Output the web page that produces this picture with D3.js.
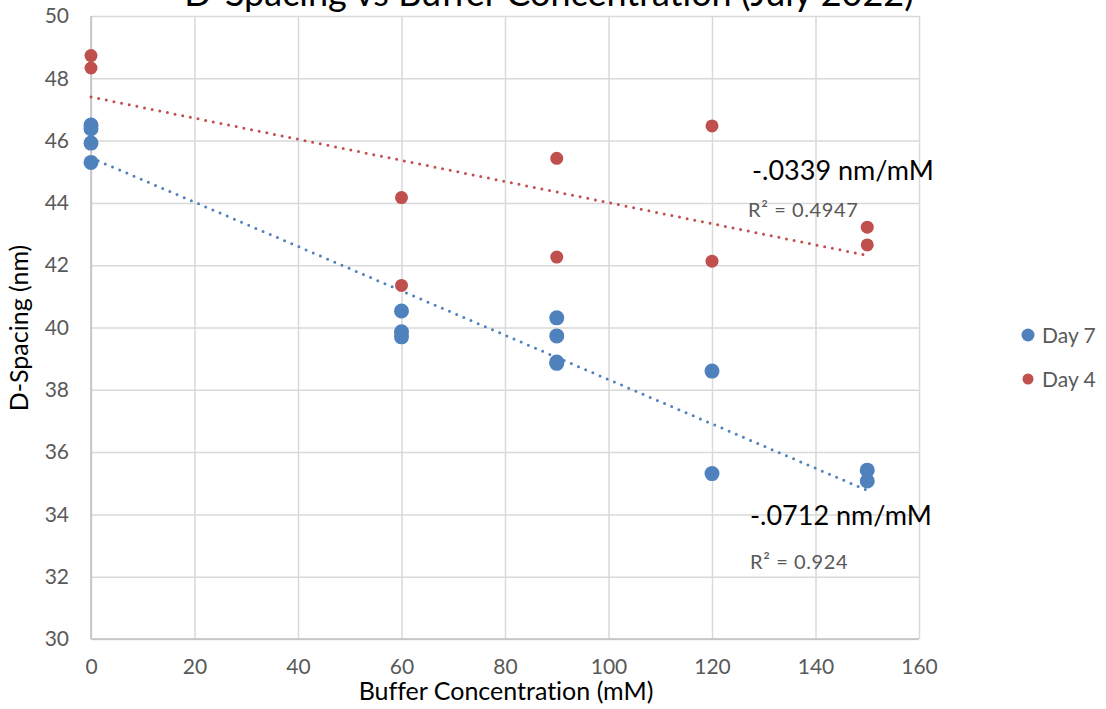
<!DOCTYPE html>
<html>
<head>
<meta charset="utf-8">
<script src="https://cdn.jsdelivr.net/npm/d3@7"></script>
<style>
  body { margin: 0; background: #fff; }
  svg { display: block; font-family: Lato, "Liberation Sans", sans-serif; font-variant-ligatures: none; }
</style>
</head>
<body>
<svg width="1106" height="709"></svg>
<script>
// Day 7 measurements (buffer mM, d-spacing nm)
const day7X = [0, 0, 0, 0, 60, 60, 60, 90, 90, 90, 90, 120, 120, 150, 150];
const day7Y = [46.50, 46.38, 45.92, 45.30, 40.53, 39.86, 39.70, 40.31, 39.73, 38.89, 38.85, 38.60, 35.31, 35.42, 35.07];
// Day 4 measurements
const day4X = [0, 0, 60, 60, 90, 90, 120, 120, 150, 150];
const day4Y = [48.73, 48.33, 44.17, 41.35, 45.43, 42.26, 46.47, 42.13, 43.22, 42.65];
// linear trendlines: intercept, slope
const trendDay7 = [45.45, -0.0712];
const trendDay4 = [47.40, -0.0339];
const xTicks = [0, 20, 40, 60, 80, 100, 120, 140, 160];
const yTicks = [30, 32, 34, 36, 38, 40, 42, 44, 46, 48, 50];

const svg = d3.select('svg');
const margin = {top: 16, left: 91, right: 187, bottom: 70};
const width = +svg.attr('width');
const height = +svg.attr('height');
const innerWidth = width - margin.left - margin.right;
const innerHeight = height - margin.top - margin.bottom;

const blue = '#4f81bd';
const red = '#c0504d';

const xScale = d3.scaleLinear().domain([0, 160]).range([0, innerWidth]);
const yScale = d3.scaleLinear().domain([30, 50]).range([innerHeight, 0]);

const g = svg.append('g')
    .attr('transform', `translate(${margin.left},${margin.top})`);

// gridlines
const gy = g.append('g')
    .call(d3.axisLeft(yScale).tickValues(yTicks).tickSize(-innerWidth).tickFormat(''));
gy.select('.domain').remove();
gy.selectAll('.tick text').remove();
gy.selectAll('.tick line').attr('stroke', '#d9d9d9').attr('stroke-width', 1.5);

const gx = g.append('g')
    .call(d3.axisBottom(xScale).tickValues(xTicks).tickSize(innerHeight).tickFormat(''));
gx.select('.domain').remove();
gx.selectAll('.tick text').remove();
gx.selectAll('.tick line').attr('stroke', '#d9d9d9').attr('stroke-width', 1.5);

// axis lines
g.append('line').attr('x1', 0).attr('x2', 0).attr('y1', 0).attr('y2', innerHeight)
    .attr('stroke', '#bfbfbf').attr('stroke-width', 1.5);
g.append('line').attr('x1', 0).attr('x2', innerWidth).attr('y1', innerHeight).attr('y2', innerHeight)
    .attr('stroke', '#bfbfbf').attr('stroke-width', 1.5);

// tick labels
const yAx = g.append('g')
    .call(d3.axisLeft(yScale).tickValues(yTicks).tickSize(0).tickPadding(22));
yAx.select('.domain').remove();
yAx.selectAll('text').attr('font-size', 21).attr('fill', '#595959').attr('font-family', 'Lato');

const xAx = g.append('g')
    .attr('transform', `translate(0,${innerHeight})`)
    .call(d3.axisBottom(xScale).tickValues(xTicks).tickSize(0).tickPadding(20));
xAx.select('.domain').remove();
xAx.selectAll('text').attr('font-size', 21).attr('fill', '#595959').attr('font-family', 'Lato');

// trendlines
const drawTrend = (t, color) => {
    g.append('line')
        .attr('x1', xScale(0)).attr('y1', yScale(t[0]))
        .attr('x2', xScale(150)).attr('y2', yScale(t[0] + t[1] * 150))
        .attr('stroke', color).attr('stroke-width', 3)
        .attr('stroke-dasharray', '0 7.8').attr('stroke-linecap', 'round');
};
drawTrend(trendDay4, red);
drawTrend(trendDay7, blue);

// points
g.selectAll('circle.d7').data(day7X.map((x, i) => [x, day7Y[i]]))
    .enter().append('circle').attr('class', 'd7')
    .attr('cx', d => xScale(d[0])).attr('cy', d => yScale(d[1]))
    .attr('r', 7.5).attr('fill', blue);
g.selectAll('circle.d4').data(day4X.map((x, i) => [x, day4Y[i]]))
    .enter().append('circle').attr('class', 'd4')
    .attr('cx', d => xScale(d[0])).attr('cy', d => yScale(d[1]))
    .attr('r', 6.5).attr('fill', red);

// annotations
svg.append('text').attr('x', 752).attr('y', 180).attr('font-size', 27).attr('fill', '#000').text('-.0339 nm/mM');
svg.append('text').attr('x', 748).attr('y', 217).attr('font-size', 20).attr('letter-spacing', 0.6)
    .attr('fill', '#595959').text('R² = 0.4947');
svg.append('text').attr('x', 750).attr('y', 525).attr('font-size', 27).attr('fill', '#000').text('-.0712 nm/mM');
svg.append('text').attr('x', 750).attr('y', 569).attr('font-size', 20).attr('letter-spacing', 0.6)
    .attr('fill', '#595959').text('R² = 0.924');

// title (partly above the frame)
svg.append('text').attr('x', 549).attr('y', 6).attr('text-anchor', 'middle')
    .attr('font-size', 36).attr('fill', '#000')
    .text('D-Spacing vs Buffer Concentration (July 2022)');

// axis titles
svg.append('text').attr('x', 506).attr('y', 700).attr('text-anchor', 'middle')
    .attr('font-size', 25).attr('fill', '#000').text('Buffer Concentration (mM)');
svg.append('text').attr('transform', 'translate(28,328) rotate(-90)').attr('text-anchor', 'middle')
    .attr('font-size', 25).attr('fill', '#000').text('D-Spacing (nm)');

// legend
const legend = [['Day 7', blue, 7.5], ['Day 4', red, 6.5]];
const lg = svg.append('g').attr('transform', 'translate(1028,335)');
legend.forEach((d, i) => {
    lg.append('circle').attr('cx', 0).attr('cy', i * 44).attr('r', d[2] - 1).attr('fill', d[1]);
    lg.append('text').attr('x', 14).attr('y', i * 44 + 8).attr('font-size', 21)
        .attr('fill', '#595959').text(d[0]);
});
</script>
</body>
</html>
